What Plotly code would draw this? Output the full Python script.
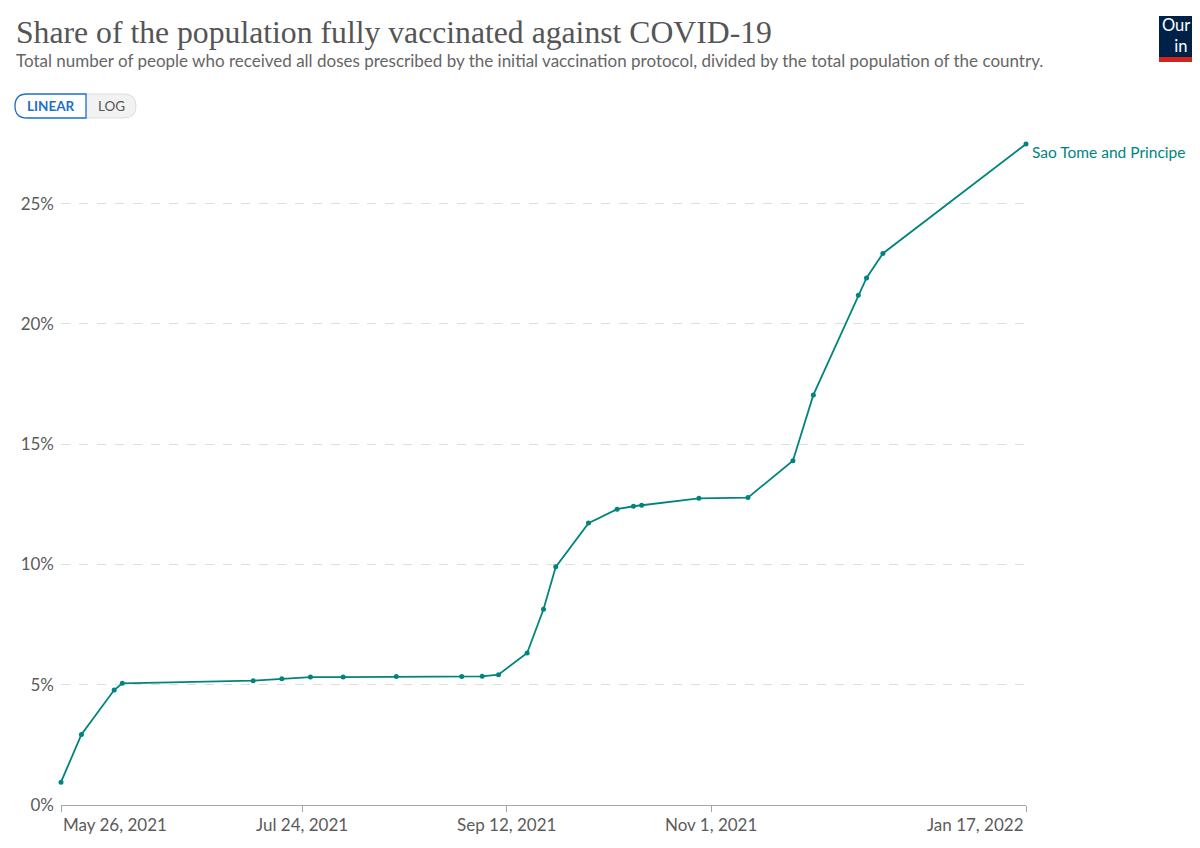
"""Share of the population fully vaccinated against COVID-19 - Sao Tome and Principe."""
import pandas as pd
import plotly.graph_objects as go

# values
DATES = [
    "2021-05-26", "2021-05-31", "2021-06-08", "2021-06-10", "2021-07-12",
    "2021-07-19", "2021-07-26", "2021-08-03", "2021-08-16", "2021-09-01",
    "2021-09-06", "2021-09-10", "2021-09-17", "2021-09-21", "2021-09-24",
    "2021-10-02", "2021-10-09", "2021-10-13", "2021-10-15", "2021-10-29",
    "2021-11-10", "2021-11-21", "2021-11-26", "2021-12-07", "2021-12-09",
    "2021-12-13", "2022-01-17",
]
SHARE_PCT = [
    0.95, 2.93, 4.78, 5.06, 5.17,
    5.25, 5.32, 5.32, 5.34, 5.34,
    5.35, 5.42, 6.32, 8.14, 9.90,
    11.72, 12.30, 12.42, 12.46, 12.75,
    12.78, 14.31, 17.05, 21.19, 21.91,
    22.93, 27.48,
]
COUNTRY = "Sao Tome and Principe"
X_TICKS = ["2021-05-26", "2021-07-24", "2021-09-12", "2021-11-01", "2022-01-17"]
X_TICK_LABELS = ["May 26, 2021", "Jul 24, 2021", "Sep 12, 2021", "Nov 1, 2021", "Jan 17, 2022"]
Y_TICKS = [0, 5, 10, 15, 20, 25]
Y_TICK_LABELS = [f"{v}%" for v in Y_TICKS]

TITLE = "Share of the population fully vaccinated against COVID-19"
SUBTITLE = ("Total number of people who received all doses prescribed by the initial "
            "vaccination protocol, divided by the total population of the country.")

# page is 1200x848 but the browser body has an 8px margin
OFF = 8
W, H = 1200 - OFF, 848 - OFF
# plot area in page pixels: x 61..1026, y 144..805
L, R, T, B = 61 - OFF, 1200 - 1026, 144 - OFF, 848 - 805
TEAL = "#00847e"
GREY_TXT = "#5b5b5b"
FONT = "Lato, 'Noto Sans', sans-serif"


def px(x, y):
    """page pixel -> paper coordinates"""
    x, y = x - OFF, y - OFF
    return (x - L) / (W - L - R), (H - B - y) / (H - T - B)


def rounded_box(x0, y0, x1, y1, r, left=True, right=True):
    (a0, b0), (a1, b1) = px(x0, y0), px(x1, y1)
    rx, ry = r / (W - L - R), r / (H - T - B)
    p = [f"M{a0 + rx},{b0}" if left else f"M{a0},{b0}"]
    if right:
        p += [f"L{a1 - rx},{b0}", f"Q{a1},{b0} {a1},{b0 - ry}",
              f"L{a1},{b1 + ry}", f"Q{a1},{b1} {a1 - rx},{b1}"]
    else:
        p += [f"L{a1},{b0}", f"L{a1},{b1}"]
    if left:
        p += [f"L{a0 + rx},{b1}", f"Q{a0},{b1} {a0},{b1 + ry}",
              f"L{a0},{b0 - ry}", f"Q{a0},{b0} {a0 + rx},{b0}"]
    else:
        p += [f"L{a0},{b1}"]
    p.append("Z")
    return " ".join(p)


def text_at(x, y, text, size, color, anchor="left", family=FONT, **kw):
    ax, ay = px(x, y)
    fig.add_annotation(x=ax, y=ay, xref="paper", yref="paper", text=text,
                       showarrow=False, xanchor=anchor, yanchor="middle",
                       font=dict(family=family, size=size, color=color), **kw)


x = pd.to_datetime(DATES)
fig = go.Figure()
fig.add_trace(go.Scatter(
    x=x, y=SHARE_PCT, mode="lines+markers", name=COUNTRY,
    line=dict(color=TEAL, width=1.8), marker=dict(color=TEAL, size=5),
    cliponaxis=False, showlegend=False,
))

# line-end label
fig.add_annotation(x=x[-1], y=SHARE_PCT[-1], text=COUNTRY, showarrow=False,
                   xanchor="left", yanchor="middle", xshift=4, yshift=-8,
                   font=dict(family=FONT, size=15.5, color=TEAL))

# x tick labels: first left-aligned, last right-aligned
for i, (tv, tl) in enumerate(zip(X_TICKS, X_TICK_LABELS)):
    anchor = "left" if i == 0 else "right" if i == len(X_TICKS) - 1 else "center"
    fig.add_annotation(x=pd.Timestamp(tv), y=0, xref="x", yref="paper", text=tl,
                       showarrow=False, xanchor=anchor, yanchor="top", yshift=-7,
                       font=dict(family=FONT, size=17, color=GREY_TXT))

# title + subtitle
text_at(14, 33, TITLE, 31.7, "#555555", family="'Liberation Serif', 'DejaVu Serif', serif")
text_at(14, 60, SUBTITLE, 17, "#666666")

# LINEAR / LOG toggle
shapes = [
    dict(type="path", xref="paper", yref="paper", path=rounded_box(86, 94, 136, 118, 12, left=False),
         fillcolor="#f2f2f2", line=dict(color="#dddddd", width=1)),
    dict(type="path", xref="paper", yref="paper", path=rounded_box(15, 94, 86, 118, 12, right=False),
         fillcolor="#ffffff", line=dict(color="#1d6fc8", width=1.3)),
]
text_at(51, 106, "<b>LINEAR</b>", 13.5, "#1d6fc8", anchor="center")
text_at(111, 106, "LOG", 13.5, "#555555", anchor="center")

# logo (cut off at the right edge like the reference)
(lx0, ly0), (lx1, ly1) = px(1159, 16), px(1245, 62)
(_, ry0) = px(0, 57)
shapes += [
    dict(type="rect", xref="paper", yref="paper", x0=lx0, x1=lx1, y0=ly0, y1=ry0,
         fillcolor="#002147", line=dict(width=0)),
    dict(type="rect", xref="paper", yref="paper", x0=lx0, x1=lx1, y0=ry0, y1=ly1,
         fillcolor="#ce261e", line=dict(width=0)),
]
text_at(1200, 36, "Our World<br>in Data", 16.5, "#ffffff", anchor="center", align="center")

fig.update_layout(
    width=W, height=H, autosize=False,
    margin=dict(l=L, r=R, t=T, b=B),
    paper_bgcolor="white", plot_bgcolor="white",
    font=dict(family=FONT, color=GREY_TXT),
    shapes=shapes,
    xaxis=dict(
        type="date", range=[pd.Timestamp(X_TICKS[0]), pd.Timestamp(X_TICKS[-1])],
        tickvals=pd.to_datetime(X_TICKS), ticktext=[""] * len(X_TICKS),
        showgrid=False, zeroline=False, showline=True, linecolor="#a6a6a6", linewidth=1,
        ticks="outside", ticklen=6, tickcolor="#a6a6a6",
    ),
    yaxis=dict(
        range=[0, SHARE_PCT[-1]], tickvals=Y_TICKS, ticktext=Y_TICK_LABELS,
        showgrid=True, gridcolor="#dddddd", griddash="dash", gridwidth=1,
        zeroline=False, showline=False, ticks="", ticklabelstandoff=6,
        tickfont=dict(family=FONT, size=17, color=GREY_TXT),
    ),
)

fig.write_html("out.html")
